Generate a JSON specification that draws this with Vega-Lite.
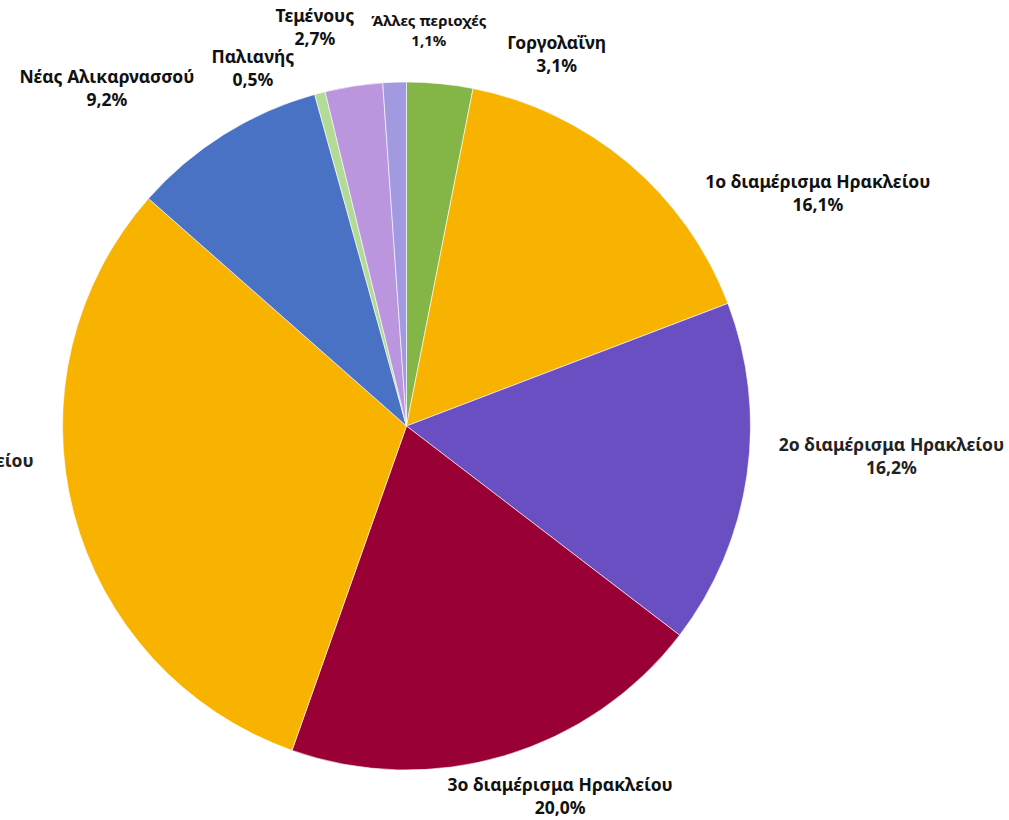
{
  "$schema": "https://vega.github.io/schema/vega-lite/v6.json",
  "autosize": {"type": "none"},
  "width": 813,
  "height": 788,
  "padding": {"left": 0, "top": 32, "right": 196, "bottom": 0},
  "background": "white",
  "config": {"view": {"stroke": null}},
  "data": {
    "values": [
      {"rank": 1, "region": "Γοργολαΐνη", "share": 0.031},
      {"rank": 2, "region": "1ο διαμέρισμα Ηρακλείου", "share": 0.161},
      {"rank": 3, "region": "2ο διαμέρισμα Ηρακλείου", "share": 0.162},
      {"rank": 4, "region": "3ο διαμέρισμα Ηρακλείου", "share": 0.200},
      {"rank": 5, "region": "4ο διαμέρισμα Ηρακλείου", "share": 0.311},
      {"rank": 6, "region": "Νέας Αλικαρνασσού", "share": 0.092},
      {"rank": 7, "region": "Παλιανής", "share": 0.005},
      {"rank": 8, "region": "Τεμένους", "share": 0.027},
      {"rank": 9, "region": "Άλλες περιοχές", "share": 0.011}
    ]
  },
  "transform": [
    {"calculate": "[datum.region, replace(format(datum.share, '.1%'), '.', ',')]", "as": "label"}
  ],
  "encoding": {
    "theta": {"field": "share", "type": "quantitative", "stack": true},
    "order": {"field": "rank", "type": "quantitative"},
    "detail": {"field": "region", "type": "nominal"}
  },
  "layer": [
    {
      "mark": {"type": "arc", "outerRadius": 344, "stroke": "white", "strokeWidth": 0.6},
      "encoding": {
        "color": {
          "field": "region", "type": "nominal", "legend": null,
          "scale": {
            "domain": ["Γοργολαΐνη", "1ο διαμέρισμα Ηρακλείου", "2ο διαμέρισμα Ηρακλείου", "3ο διαμέρισμα Ηρακλείου", "4ο διαμέρισμα Ηρακλείου", "Νέας Αλικαρνασσού", "Παλιανής", "Τεμένους", "Άλλες περιοχές"],
            "range": ["#84B547", "#F8B200", "#6A4FC2", "#990036", "#F8B200", "#4A72C4", "#B2DB97", "#BB95DD", "#A29AE0"]
          }
        }
      }
    },
    {
      "mark": {"type": "text", "radius": 372, "dx": 114, "dy": -11.5, "font": "Noto Sans", "fontWeight": "bold", "fontSize": 17.5, "lineHeight": 23, "color": "#111111", "baseline": "middle", "align": "center"},
      "encoding": {"text": {"condition": {"test": "datum.region === 'Γοργολαΐνη'", "field": "label"}, "value": ""}}
    },
    {
      "mark": {"type": "text", "radius": 441, "dx": 127, "dy": 94.5, "font": "Noto Sans", "fontWeight": "bold", "fontSize": 17.5, "lineHeight": 23, "color": "#111111", "baseline": "middle", "align": "center"},
      "encoding": {"text": {"condition": {"test": "datum.region === '1ο διαμέρισμα Ηρακλείου'", "field": "label"}, "value": ""}}
    },
    {
      "mark": {"type": "text", "radius": 490, "dx": 0, "dy": -50.5, "font": "Noto Sans", "fontWeight": "bold", "fontSize": 17.5, "lineHeight": 23, "color": "#222222", "baseline": "middle", "align": "center"},
      "encoding": {"text": {"condition": {"test": "datum.region === '2ο διαμέρισμα Ηρακλείου'", "field": "label"}, "value": ""}}
    },
    {
      "mark": {"type": "text", "radius": 388, "dx": 43, "dy": -11.5, "font": "Noto Sans", "fontWeight": "bold", "fontSize": 17.5, "lineHeight": 23, "color": "#111111", "baseline": "middle", "align": "center"},
      "encoding": {"text": {"condition": {"test": "datum.region === '3ο διαμέρισμα Ηρακλείου'", "field": "label"}, "value": ""}}
    },
    {
      "mark": {"type": "text", "radius": 385, "dx": -113, "dy": -60.5, "font": "Noto Sans", "fontWeight": "bold", "fontSize": 17.5, "lineHeight": 23, "color": "#222222", "baseline": "middle", "align": "center"},
      "encoding": {"text": {"condition": {"test": "datum.region === '4ο διαμέρισμα Ηρακλείου'", "field": "label"}, "value": ""}}
    },
    {
      "mark": {"type": "text", "radius": 444, "dx": -64, "dy": 28.5, "font": "Noto Sans", "fontWeight": "bold", "fontSize": 17.5, "lineHeight": 23, "color": "#111111", "baseline": "middle", "align": "center"},
      "encoding": {"text": {"condition": {"test": "datum.region === 'Νέας Αλικαρνασσού'", "field": "label"}, "value": ""}}
    },
    {
      "mark": {"type": "text", "radius": 368, "dx": -61, "dy": -11.5, "font": "Noto Sans", "fontWeight": "bold", "fontSize": 17.5, "lineHeight": 23, "color": "#111111", "baseline": "middle", "align": "center"},
      "encoding": {"text": {"condition": {"test": "datum.region === 'Παλιανής'", "field": "label"}, "value": ""}}
    },
    {
      "mark": {"type": "text", "radius": 402, "dx": -30, "dy": -11.5, "font": "Noto Sans", "fontWeight": "bold", "fontSize": 17.5, "lineHeight": 23, "color": "#111111", "baseline": "middle", "align": "center"},
      "encoding": {"text": {"condition": {"test": "datum.region === 'Τεμένους'", "field": "label"}, "value": ""}}
    },
    {
      "mark": {"type": "text", "radius": 395, "dx": 36, "dy": -10, "font": "Noto Sans", "fontWeight": "bold", "fontSize": 15, "lineHeight": 20, "color": "#111111", "baseline": "middle", "align": "center"},
      "encoding": {"text": {"condition": {"test": "datum.region === 'Άλλες περιοχές'", "field": "label"}, "value": ""}}
    }
  ]
}
